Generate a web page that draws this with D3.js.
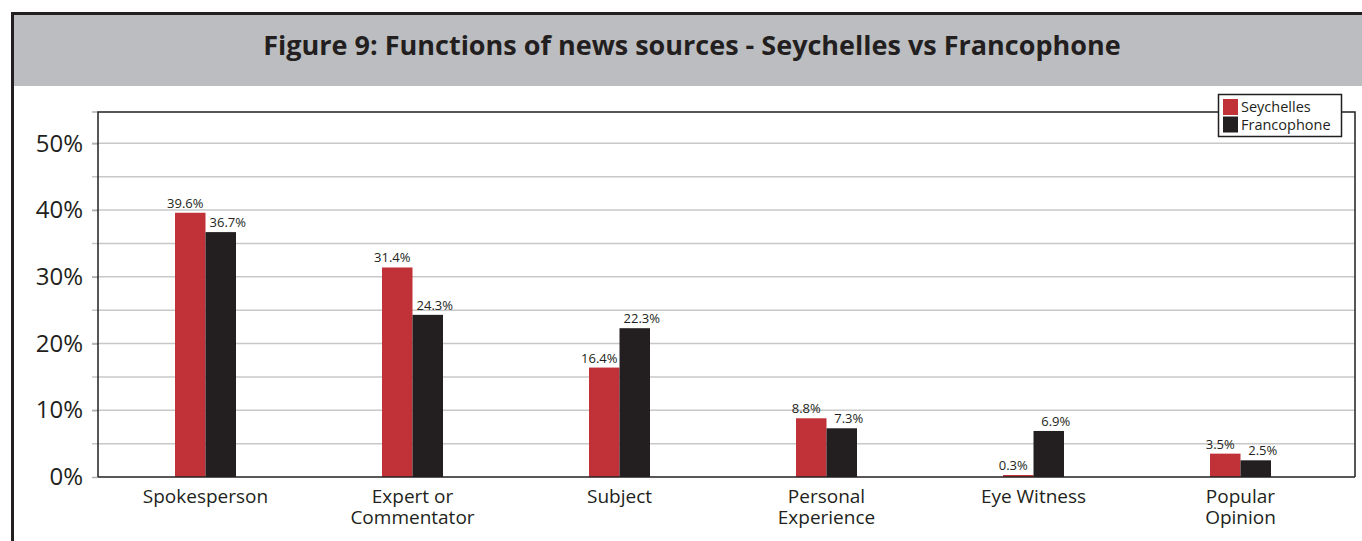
<!DOCTYPE html>
<html>
<head>
<meta charset="utf-8">
<script src="https://cdn.jsdelivr.net/npm/d3@7"></script>
<style>
  body { margin: 0; background: #fff; }
  svg { display: block; font-family: "Open Sans", sans-serif; }
</style>
</head>
<body>
<script>
// data
const categories = [["Spokesperson"], ["Expert or", "Commentator"], ["Subject"],
                    ["Personal", "Experience"], ["Eye Witness"], ["Popular", "Opinion"]];
const seriesNames = ["Seychelles", "Francophone"];
const seychelles = [39.6, 31.4, 16.4, 8.8, 0.3, 3.5];
const francophone = [36.7, 24.3, 22.3, 7.3, 6.9, 2.5];
const yTicks = [0, 10, 20, 30, 40, 50];
const colors = ["#c03237", "#231f20"];

const W = 1362, H = 541;
const plot = {left: 98, right: 1355, top: 112, bottom: 477};

const svg = d3.select("body").append("svg")
    .attr("width", W)
    .attr("height", H);

// frame + title band
svg.append("rect")
    .attr("x", 14).attr("y", 15).attr("width", W - 14).attr("height", 71)
    .attr("fill", "#bcbdc0");
svg.append("line")
    .attr("x1", 11).attr("x2", W).attr("y1", 13.5).attr("y2", 13.5)
    .attr("stroke", "#231f20").attr("stroke-width", 3);
svg.append("line")
    .attr("x1", 12.5).attr("x2", 12.5).attr("y1", 12).attr("y2", H)
    .attr("stroke", "#231f20").attr("stroke-width", 3);

svg.append("text")
    .attr("x", 692).attr("y", 55)
    .attr("text-anchor", "middle")
    .attr("font-size", 27).attr("font-weight", "bold")
    .attr("fill", "#231f20")
    .text("Figure 9: Functions of news sources - Seychelles vs Francophone");

const x = d3.scaleBand()
    .domain(d3.range(categories.length))
    .range([102, 1344]);
const xs = d3.scaleBand()
    .domain(seriesNames)
    .range([0, 61]);
const y = d3.scaleLinear()
    .domain([0, 55])
    .range([plot.bottom, 110]);

// gridlines every 5%
const grid = d3.range(5, 55, 5);
svg.append("g")
    .selectAll("line")
    .data(grid)
    .join("line")
    .attr("x1", plot.left - 6).attr("x2", plot.right)
    .attr("y1", d => y(d)).attr("y2", d => y(d))
    .attr("stroke", "#c8c8c8").attr("stroke-width", 1.5);

// y axis labels + ticks
const yAxis = svg.append("g")
    .attr("transform", `translate(${plot.left},0)`)
    .call(d3.axisLeft(y).tickValues(yTicks).tickSize(6).tickPadding(9).tickFormat(d => d + "%"));
yAxis.select(".domain").remove();
yAxis.selectAll(".tick line").attr("stroke", "#b0b0b0").attr("stroke-width", 1.5);
yAxis.selectAll(".tick text")
    .attr("font-size", 24).attr("fill", "#231f20")
    .attr("font-family", "Open Sans, sans-serif");
// top tick
svg.append("line")
    .attr("x1", plot.left - 6).attr("x2", plot.left)
    .attr("y1", plot.top).attr("y2", plot.top)
    .attr("stroke", "#b0b0b0").attr("stroke-width", 1.5);

// plot border
svg.append("path")
    .attr("d", `M${plot.left},${plot.bottom}V${plot.top}H1218M1342,${plot.top}H${plot.right}V${plot.bottom}`)
    .attr("fill", "none").attr("stroke", "#231f20").attr("stroke-width", 1.5);

// bars
const rows = categories.map((c, i) => ({i, values: [seychelles[i], francophone[i]]}));
const groups = svg.append("g").selectAll("g")
    .data(rows)
    .join("g")
    .attr("transform", d => `translate(${x(d.i) + x.bandwidth() / 2 - 30.5},0)`);

groups.selectAll("rect")
    .data(d => d.values.map((v, k) => ({v, k})))
    .join("rect")
    .attr("x", d => xs(seriesNames[d.k]))
    .attr("width", xs.bandwidth())
    .attr("y", d => y(d.v))
    .attr("height", d => y(0) - y(d.v))
    .attr("fill", d => colors[d.k]);

// value labels sit a little outward of their bars
const labelShift = [-5, 7];
groups.selectAll("text")
    .data(d => d.values.map((v, k) => ({v, k})))
    .join("text")
    .attr("x", d => xs(seriesNames[d.k]) + xs.bandwidth() / 2 + labelShift[d.k])
    .attr("y", d => y(d.v) - 5)
    .attr("text-anchor", "middle")
    .attr("font-size", 13)
    .attr("fill", "#231f20")
    .text(d => d.v.toFixed(1) + "%");

// baseline
svg.append("line")
    .attr("x1", plot.left).attr("x2", plot.right)
    .attr("y1", plot.bottom).attr("y2", plot.bottom)
    .attr("stroke", "#231f20").attr("stroke-width", 1.5);

// x labels
svg.append("g").selectAll("text")
    .data(categories)
    .join("text")
    .attr("x", (d, i) => x(i) + x.bandwidth() / 2)
    .attr("y", 503)
    .attr("text-anchor", "middle")
    .attr("font-size", 19)
    .attr("fill", "#231f20")
    .selectAll("tspan")
    .data(d => d)
    .join("tspan")
    .attr("x", function() { return this.parentNode.getAttribute("x"); })
    .attr("dy", (d, j) => j ? 21 : 0)
    .text(d => d);

// legend
const lg = svg.append("g");
lg.append("rect")
    .attr("x", 1218.5).attr("y", 94.5).attr("width", 123).attr("height", 42)
    .attr("fill", "#fff").attr("stroke", "#231f20").attr("stroke-width", 1.5);
seriesNames.forEach((name, k) => {
    lg.append("rect")
        .attr("x", 1223).attr("y", 99 + k * 17.5)
        .attr("width", 15).attr("height", 16)
        .attr("fill", colors[k]);
    lg.append("text")
        .attr("x", 1241).attr("y", 112 + k * 17.5)
        .attr("font-size", 14.5)
        .attr("fill", "#231f20")
        .text(name);
});
</script>
</body>
</html>
